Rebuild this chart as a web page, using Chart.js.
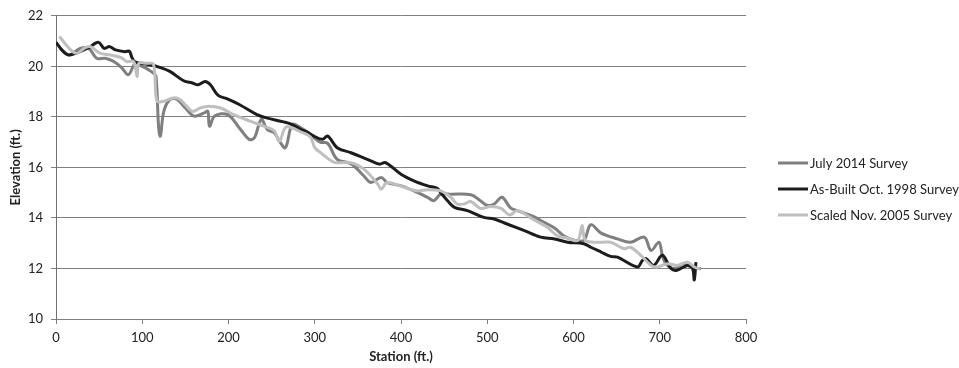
<!DOCTYPE html>
<html>
<head>
<meta charset="utf-8">
<script src="https://cdn.jsdelivr.net/npm/chart.js@4.4.1/dist/chart.umd.min.js"></script>
<style>
html,body{margin:0;padding:0;background:#fff;}
#wrap{width:959px;height:368px;}
</style>
</head>
<body>
<div id="wrap"><canvas id="c" width="959" height="368"></canvas></div>
<script>
// ---- Data ----
const seriesNames = ["July 2014 Survey", "As-Built Oct. 1998 Survey", "Scaled Nov. 2005 Survey"];

const julyStation = [5,16,28,38,47,57,67,76,84,92,100,108,113,116,119,121,125,132,140,150,160,172,176,178,184,199,214,224,230,238,245,253,259,266,274,284,295,306,315,326,342,357,365,377,384,400,415,431,438,446,458,481,492,500,508,517,527,535,554,562,578,589,601,612,620,632,651,666,682,690,699,703,707,717,728,736,744,748];
const julyElev = [20.7,20.45,20.71,20.71,20.32,20.32,20.19,19.95,19.67,20.12,20.0,19.85,19.73,19.6,17.57,17.24,18.22,18.68,18.7,18.35,18.03,18.16,18.22,17.63,18.03,18.09,17.5,17.11,17.17,17.9,17.5,17.37,17.04,16.78,17.7,17.57,17.3,17.0,16.95,16.32,16.15,15.66,15.4,15.6,15.4,15.27,15.07,14.81,14.68,14.94,14.94,14.92,14.68,14.5,14.55,14.82,14.4,14.29,14.05,13.9,13.6,13.28,13.12,13.11,13.73,13.4,13.17,13.04,13.24,12.71,13.04,12.52,12.19,12.0,12.2,12.06,12.0,12.0];

const asBuiltStation = [0,8,15,28,38,49,56,62,69,80,85,88,91,98,109,121,132,148,158,165,173,179,188,198,213,233,244,264,272,284,291,299,309,315,326,342,361,375,382,400,415,431,442,446,454,462,477,496,508,523,543,562,578,593,612,620,632,643,651,674,680,684,693,703,713,720,732,738,740,742];
const asBuiltElev = [20.95,20.6,20.45,20.58,20.74,20.95,20.71,20.78,20.65,20.58,20.6,20.35,20.19,20.12,20.06,19.95,19.8,19.43,19.34,19.27,19.4,19.27,18.85,18.72,18.48,18.09,17.96,17.8,17.72,17.5,17.41,17.24,17.11,17.24,16.78,16.58,16.32,16.13,16.19,15.73,15.47,15.27,15.17,15.0,14.68,14.42,14.29,14.02,13.96,13.76,13.5,13.24,13.17,13.04,12.98,12.84,12.65,12.48,12.45,12.06,12.32,12.39,12.12,12.52,12.0,11.93,12.12,12.0,11.55,12.25];

const scaledStation = [4,17,24,34,40,51,63,75,82,90,94,96,105,113,117,125,136,144,158,167,177,191,206,225,241,253,259,267,284,295,300,307,323,342,357,373,377,384,400,419,431,446,458,465,473,481,492,504,516,526,535,554,570,581,593,605,610,614,632,643,659,666,678,690,697,709,720,732,740,747];
const scaledElev = [21.18,20.65,20.52,20.74,20.78,20.52,20.45,20.35,20.19,20.19,19.6,20.12,20.12,20.08,18.62,18.62,18.75,18.68,18.22,18.35,18.42,18.35,18.09,17.83,17.63,17.45,17.04,17.6,17.4,17.2,16.78,16.58,16.2,16.19,15.93,15.34,15.14,15.4,15.25,15.07,15.12,15.07,14.81,14.55,14.55,14.65,14.38,14.45,14.38,14.12,14.29,13.93,13.62,13.3,13.2,13.11,13.7,13.11,13.04,13.04,12.78,12.84,12.52,12.12,12.06,12.19,12.12,12.25,12.06,11.97];

const xTicks = [0,100,200,300,400,500,600,700,800];
const yTicks = [10,12,14,16,18,20,22];

const colors = ["#7f7f7f", "#1c1c1c", "#bfbfbf"];

function pts(xs, ys){ return xs.map((x,i)=>({x:x, y:ys[i]})); }

const FONT = "Lato, 'Open Sans', 'Liberation Sans', sans-serif";

const legendPlugin = {
  id: 'sideLegend',
  afterDraw(chart){
    const ctx = chart.ctx;
    const area = chart.chartArea;
    const x0 = area.right + 32, x1 = x0 + 30;
    ctx.save();
    chart.data.datasets.forEach((ds, i) => {
      const y = 163 + i*26;
      ctx.strokeStyle = ds.borderColor;
      ctx.lineWidth = 3;
      ctx.beginPath(); ctx.moveTo(x0, y); ctx.lineTo(x1, y); ctx.stroke();
      ctx.fillStyle = '#222';
      ctx.font = "13px " + FONT;
      ctx.textBaseline = 'middle';
      ctx.textAlign = 'left';
      ctx.fillText(ds.label, x1 + 2, y + 1);
    });
    ctx.restore();
  }
};

new Chart(document.getElementById('c'), {
  type: 'line',
  data: {
    datasets: [
      {label: seriesNames[0], data: pts(julyStation, julyElev), borderColor: colors[0], backgroundColor: colors[0], borderWidth: 3, pointRadius: 0, tension: 0.35, order: 3},
      {label: seriesNames[1], data: pts(asBuiltStation, asBuiltElev), borderColor: colors[1], backgroundColor: colors[1], borderWidth: 3, pointRadius: 0, tension: 0.35, order: 2},
      {label: seriesNames[2], data: pts(scaledStation, scaledElev), borderColor: colors[2], backgroundColor: colors[2], borderWidth: 3, pointRadius: 0, tension: 0.35, order: 1}
    ]
  },
  options: {
    responsive: false,
    devicePixelRatio: 1,
    animation: false,
    events: [],
    layout: {padding: {left: 4, right: 213, top: 14, bottom: 0}},
    plugins: {legend: {display: false}, tooltip: {enabled: false}},
    scales: {
      x: {
        type: 'linear', min: 0, max: 800,
        afterBuildTicks: s => { s.ticks = xTicks.map(v => ({value: v})); },
        afterFit: s => { s.height = 49; },
        ticks: {font: {family: FONT, size: 13}, color: '#222', padding: 6, maxRotation: 0},
        grid: {display: true, drawOnChartArea: false, drawTicks: true, tickLength: 5, color: '#808080'},
        border: {display: true, color: '#808080', width: 1},
        title: {display: true, text: 'Station (ft.)', font: {family: FONT, size: 13, weight: 'bold'}, color: '#222', padding: {top: 2, bottom: 3}}
      },
      y: {
        type: 'linear', min: 10, max: 22,
        afterBuildTicks: s => { s.ticks = yTicks.map(v => ({value: v})); },
        afterFit: s => { s.width = 52; },
        ticks: {font: {family: FONT, size: 13}, color: '#222', padding: 8},
        grid: {display: true, drawTicks: true, tickLength: 5, color: '#808080', lineWidth: 1},
        border: {display: true, color: '#707070', width: 1},
        title: {display: true, text: 'Elevation (ft.)', font: {family: FONT, size: 13, weight: 'bold'}, color: '#222', padding: {top: 4, bottom: 4}}
      }
    }
  },
  plugins: [legendPlugin]
});
</script>
</body>
</html>
